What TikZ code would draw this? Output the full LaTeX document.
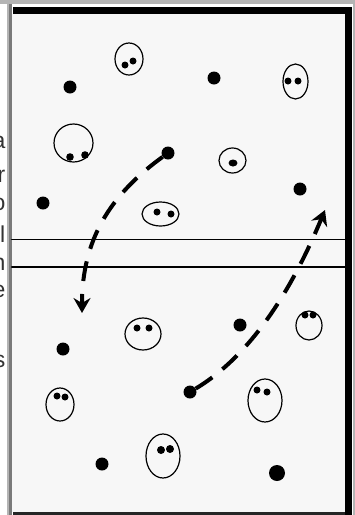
\documentclass[tikz,border=0pt]{standalone}
\usepackage{fontspec}
\setmainfont{Liberation Sans}
\usetikzlibrary{arrows.meta,shapes.geometric}
\definecolor{panelgray}{HTML}{F7F7F7}
\definecolor{stripgray}{HTML}{B4B4B4}
\definecolor{linegray}{HTML}{7A7A7A}
\begin{document}
\begin{tikzpicture}[x=1pt, y=-1pt, line join=round, line cap=round,
    player/.style={circle, fill=black, inner sep=0pt, minimum size=13pt},
    zone/.style={ellipse, draw=black, line width=1.2pt, inner sep=0pt},
    duo/.style={fill=black},
    cut text/.style={anchor=base east, inner sep=0pt, text=black!80, font=\fontsize{23pt}{28pt}\selectfont},
    run/.style={line width=4pt, line cap=butt, dash pattern=on 20pt off 13pt, -{Stealth[length=15pt, width=17pt, inset=5pt]}}]
    % 1. Khung trang va bang
    \clip (0,0) rectangle (355,515);
    \fill[white] (0,0) rectangle (355,515);
    \fill[panelgray] (11.7,14) rectangle (345,511.7);
    \fill[stripgray] (0,0) rectangle (355,3.5);
    \fill[stripgray] (7.3,3.5) rectangle (9,515);
    \fill[linegray] (9,3.5) rectangle (11.7,515);
    \fill[black] (12.7,7) rectangle (351.7,14);
    \fill[black] (345,7) rectangle (351.7,515);
    \fill[black!85] (12.7,511.7) rectangle (345,515);
    \fill[stripgray] (353,3.5) rectangle (355,515);

    % 2. Hai vach ngang giua san
    \draw[line width=1.5pt] (11.7,239.5) -- (345,239.5);
    \draw[line width=1.5pt] (11.7,267) -- (345,267);

    % 3. Chu bi cat o le trai
    \node[cut text] (ta) at (5.5,148) {a};
    \node[cut text] (tr) at (5.5,182) {r};
    \node[cut text] (to) at (5.5,210) {o};
    \node[cut text] (tl) at (5.5,242) {l};
    \node[cut text] (tn) at (5.5,270) {n};
    \node[cut text] (te) at (5.5,297) {e};
    \node[cut text] (ts) at (5.5,367) {s};

    % 4. Cac cham don
    \node[player] (p1) at (70,87) {};
    \node[player] (p2) at (214,78) {};
    \node[player] (p3) at (43,203) {};
    \node[player] (p4) at (168,153) {};
    \node[player] (p5) at (300,189) {};
    \node[player] (p6) at (240,325) {};
    \node[player] (p7) at (63,349) {};
    \node[player] (p8) at (190,392) {};
    \node[player] (p9) at (102,464) {};
    \node[player, minimum size=16pt] (p10) at (277,473) {};

    % 5. Cac vong bao quanh cap cham
    \node[zone, minimum width=28pt, minimum height=32pt] (z1) at (129,59) {};
    \fill[duo] (125,65) circle (3.5) (133,61) circle (3.5);
    \node[zone, minimum width=25pt, minimum height=35pt] (z2) at (295.5,81.5) {};
    \fill[duo] (288,81) circle (3.5) (298,81) circle (3.5);
    \node[zone, minimum width=39pt, minimum height=38pt] (z3) at (73.5,143) {};
    \fill[duo] (70,157) circle (3.8) (85,155) circle (3.8);
    \node[zone, minimum width=27pt, minimum height=25pt] (z4) at (232.5,160.5) {};
    \fill[duo] (233,163) ellipse [x radius=4.5, y radius=3.5];
    \node[zone, minimum width=37pt, minimum height=24pt] (z5) at (160.5,214) {};
    \fill[duo] (157,212) circle (3.5) (171,214) circle (3.5);
    \node[zone, minimum width=36pt, minimum height=32pt] (z6) at (143,334) {};
    \fill[duo] (137,328) circle (3.5) (149,328) circle (3.5);
    \node[zone, minimum width=26pt, minimum height=29pt] (z7) at (309,325.5) {};
    \fill[duo] (305,315) circle (3.5) (313,315) circle (3.5);
    \node[zone, minimum width=28pt, minimum height=33pt] (z8) at (60,404.5) {};
    \fill[duo] (57,396) circle (3.5) (65,397) circle (3.5);
    \node[zone, minimum width=34pt, minimum height=43pt] (z9) at (265,400.5) {};
    \fill[duo] (257,390) circle (3.5) (267,392) circle (3.5);
    \node[zone, minimum width=34pt, minimum height=44pt] (z10) at (163,456) {};
    \fill[duo] (161,450) circle (4) (170,449) circle (4);

    % 6. Hai duong chay net dut
    \coordinate (tip1) at (82,313);
    \coordinate (tip2) at (325,210);
    \draw[run] (p4) .. controls (110,195) and (82,240) .. (tip1);
    \draw[run] (p8) .. controls (260,350) and (300,270) .. (tip2);
\end{tikzpicture}
\end{document}
